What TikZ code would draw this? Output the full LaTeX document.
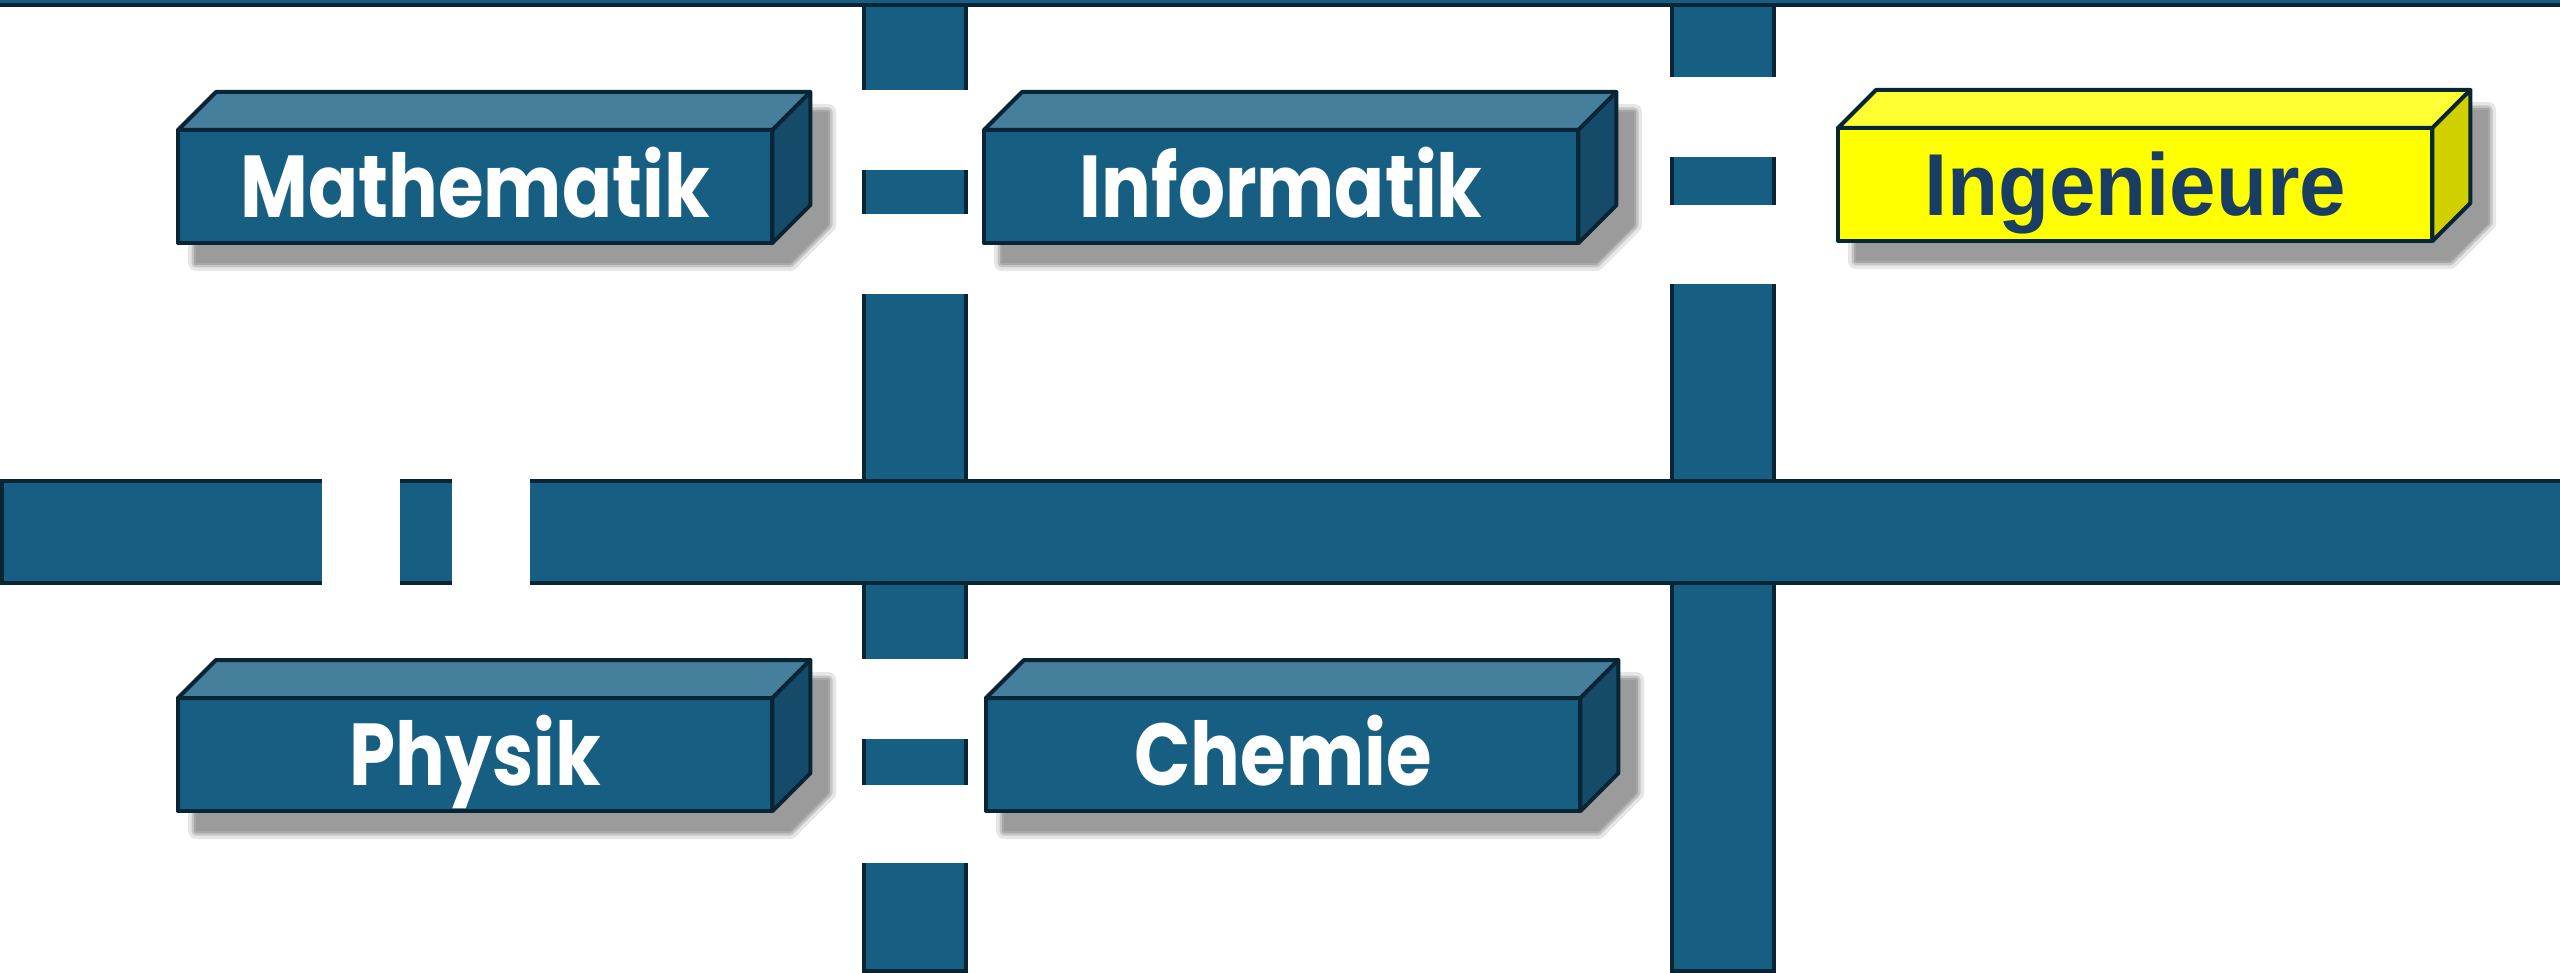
\documentclass[tikz,border=0pt]{standalone}
\usepackage{fontspec}
\newfontfamily\boxfont{Poppins}[FakeStretch=0.84]
\newfontfamily\ingfont{Liberation Sans}[FakeStretch=0.95]
\definecolor{barblue}{RGB}{23,95,130}
\definecolor{edgedark}{RGB}{8,37,54}
\definecolor{topblue}{RGB}{70,127,155}
\definecolor{sideblue}{RGB}{21,75,105}
\definecolor{yfront}{RGB}{255,255,0}
\definecolor{ytop}{RGB}{255,255,51}
\definecolor{yside}{RGB}{208,208,0}
\definecolor{ingtext}{RGB}{26,61,99}
\definecolor{shadowgray}{RGB}{155,155,155}
\tikzset{
  bar/.style={fill=barblue, draw=edgedark, line width=0.04cm},
  gap/.style={fill=white},
  face/.style={draw=edgedark, line width=0.04cm, line join=round},
  front/.style={face, minimum width=5.94cm, minimum height=1.13cm, inner sep=0pt, outer sep=0pt,
    text height=17.6pt, text depth=0pt},
  bluebox/.style={front, fill=barblue, text=white, font=\boxfont\bfseries\fontsize{25}{30}\selectfont},
  yellowbox/.style={front, fill=yfront, text=ingtext, font=\ingfont\bfseries\fontsize{25}{30}\selectfont},
}
% #1 name, #2 left x, #3 top y, #4 style, #5 top colour, #6 side colour, #7 text
\newcommand\cubebox[7]{%
  \foreach \w/\o in {16/0.25, 9/0.45, 4/0.7}{%
    \draw[shadowgray, opacity=\o, line width=\w*0.01cm, line join=round]
      (#2+18,#3+20) -- ++(38,-38) -- ++(594,0) -- ++(0,113) -- ++(-38,38) -- ++(-594,0) -- cycle;}
  \fill[shadowgray] (#2+18,#3+20) -- ++(38,-38) -- ++(594,0) -- ++(0,113) -- ++(-38,38) -- ++(-594,0) -- cycle;
  \node[#4, anchor=north west] (#1) at (#2,#3) {#7};
  \draw[face, fill=#5] (#1.north west) -- ([shift={(38,-38)}]#1.north west)
     -- ([shift={(38,-38)}]#1.north east) -- (#1.north east) -- cycle;
  \draw[face, fill=#6] (#1.north east) -- ([shift={(38,-38)}]#1.north east)
     -- ([shift={(38,-38)}]#1.south east) -- (#1.south east) -- cycle;
}
\begin{document}
\begin{tikzpicture}[x=0.01cm, y=-0.01cm]
\useasboundingbox (0,0) rectangle (2560,973);
\clip (0,0) rectangle (2560,973);
% vertical bars
\draw[bar] (864,-20) rectangle (966,971);
\draw[bar] (1672,-20) rectangle (1774,971);
\fill[gap] (858,90) rectangle (972,170);
\fill[gap] (858,214) rectangle (972,294);
\fill[gap] (858,659) rectangle (972,739);
\fill[gap] (858,785) rectangle (972,863);
\fill[gap] (1666,77) rectangle (1780,157);
\fill[gap] (1666,205) rectangle (1780,284);
% horizontal bar
\draw[bar] (2,481) rectangle (2600,583);
\fill[gap] (322,476) rectangle (400,588);
\fill[gap] (452,476) rectangle (530,588);
% top bar
\draw[bar] (-20,-60) rectangle (2600,5);
% boxes
\cubebox{mathe}{178}{130}{bluebox}{topblue}{sideblue}{Mathematik}
\cubebox{info}{984}{130}{bluebox}{topblue}{sideblue}{Informatik}
\cubebox{ing}{1838}{128}{yellowbox}{ytop}{yside}{Ingenieure}
\cubebox{phys}{178}{698}{bluebox}{topblue}{sideblue}{Physik}
\cubebox{chem}{986}{698}{bluebox}{topblue}{sideblue}{Chemie}
\end{tikzpicture}
\end{document}
